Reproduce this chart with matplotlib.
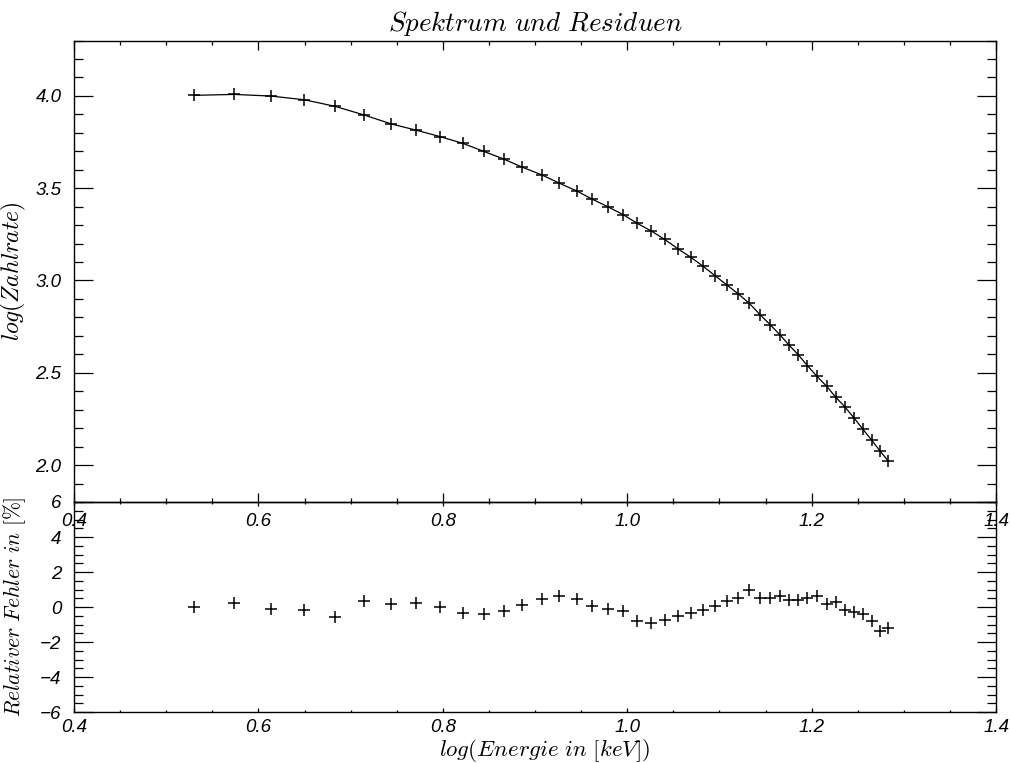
import matplotlib
matplotlib.use("Agg")
import matplotlib.pyplot as plt
from matplotlib.ticker import MultipleLocator

# log(Energie in keV) der Kanaele
log_energie = [0.5305, 0.5739, 0.6137, 0.6498, 0.6834, 0.7149, 0.7441, 0.7713,
	0.7973, 0.8216, 0.8447, 0.8664, 0.8855, 0.9073, 0.9264, 0.9452,
	0.9618, 0.9792, 0.9958, 1.0110, 1.0261, 1.0407, 1.0554, 1.0692,
	1.0825, 1.0952, 1.1079, 1.1205, 1.1324, 1.1440, 1.1549, 1.1657,
	1.1758, 1.1856, 1.1953, 1.2055, 1.2164, 1.2261, 1.2362, 1.2460,
	1.2554, 1.2652, 1.2742, 1.2832]

# log(Zahlrate)
log_zahlrate = [4.003, 4.008, 3.999, 3.979, 3.943, 3.896, 3.848, 3.814,
	3.779, 3.743, 3.699, 3.657, 3.615, 3.572, 3.527, 3.485,
	3.441, 3.399, 3.356, 3.309, 3.268, 3.222, 3.170, 3.125,
	3.076, 3.026, 2.976, 2.927, 2.876, 2.815, 2.761, 2.705,
	2.648, 2.597, 2.539, 2.482, 2.426, 2.368, 2.314, 2.255,
	2.195, 2.134, 2.076, 2.021]

# relativer Fehler in %
fehler = [0.00, 0.25, -0.11, -0.15, -0.54, 0.34, 0.17, 0.25,
	0.03, -0.31, -0.37, -0.21, 0.13, 0.49, 0.63, 0.46,
	0.07, -0.08, -0.23, -0.78, -0.88, -0.73, -0.51, -0.31,
	-0.15, 0.07, 0.34, 0.51, 0.95, 0.51, 0.51, 0.65,
	0.42, 0.42, 0.53, 0.61, 0.17, 0.30, -0.15, -0.29,
	-0.37, -0.82, -1.35, -1.20]


def style(ax, xmaj, xmin, ymaj, ymin, xpad):
	ax.tick_params(which='both', direction='in', top=True, right=True, labelsize=13.5, width=0.9)
	ax.tick_params(which='major', axis='x', length=xmaj, pad=xpad)
	ax.tick_params(which='minor', axis='x', length=xmin)
	ax.tick_params(which='major', axis='y', length=ymaj, pad=9)
	ax.tick_params(which='minor', axis='y', length=ymin)
	ax.xaxis.set_major_locator(MultipleLocator(0.2))
	ax.xaxis.set_minor_locator(MultipleLocator(0.05))
	ax.set_xlim(0.4, 1.4)
	for s in ax.spines.values():
		s.set_linewidth(1.0)
	ax.patch.set_visible(False)


def kursiv(ax):
	for lab in ax.get_xticklabels() + ax.get_yticklabels():
		lab.set_fontfamily(['Liberation Sans', 'DejaVu Sans'])
		lab.set_fontstyle('italic')


def main():
	plt.rcParams['mathtext.fontset'] = 'cm'
	fig = plt.figure(figsize=(10.1, 7.63), dpi=100)
	oben = fig.add_axes([0.0733, 0.3421, 0.9129, 0.6048])
	unten = fig.add_axes([0.0733, 0.0665, 0.9129, 0.2756])

	oben.plot(log_energie, log_zahlrate, color='black', linewidth=0.9)
	oben.plot(log_energie, log_zahlrate, linestyle='none', marker='+', markersize=9,
		markeredgewidth=1.1, color='black')
	oben.set_ylim(1.8, 4.3)
	oben.yaxis.set_major_locator(MultipleLocator(0.5))
	oben.yaxis.set_minor_locator(MultipleLocator(0.1))
	oben.yaxis.set_major_formatter(plt.FormatStrFormatter('%.1f'))
	oben.xaxis.set_major_formatter(plt.FormatStrFormatter('%.1f'))
	style(oben, 6.5, 3.2, 13.5, 6.7, 8)
	oben.set_title(r'$\mathit{Spektrum\ und\ Residuen}$', fontsize=19.5, pad=7)
	oben.set_ylabel(r'$\mathit{log(Zahlrate)}$', fontsize=17)
	oben.yaxis.set_label_coords(-0.05, 0.5)

	unten.plot(log_energie, fehler, linestyle='none', marker='+', markersize=9,
		markeredgewidth=1.1, color='black')
	unten.set_ylim(-6, 6)
	unten.yaxis.set_major_locator(MultipleLocator(2))
	unten.yaxis.set_minor_locator(MultipleLocator(0.5))
	unten.xaxis.set_major_formatter(plt.FormatStrFormatter('%.1f'))
	style(unten, 3.0, 1.5, 13.5, 6.7, 5)
	unten.set_xlabel(r'$\mathit{log(Energie\ in\ [keV])}$', fontsize=16.5)
	unten.xaxis.set_label_coords(0.51, -0.118)
	unten.set_ylabel(r'$\mathit{Relativer\ Fehler\ in\ [\%]}$', fontsize=15.5)
	unten.yaxis.set_label_coords(-0.05, 0.5)

	oben.set_zorder(2)
	fig.canvas.draw()
	kursiv(oben)
	kursiv(unten)
	plt.savefig('out.png', dpi=100)


if __name__ == "__main__":
	main()
